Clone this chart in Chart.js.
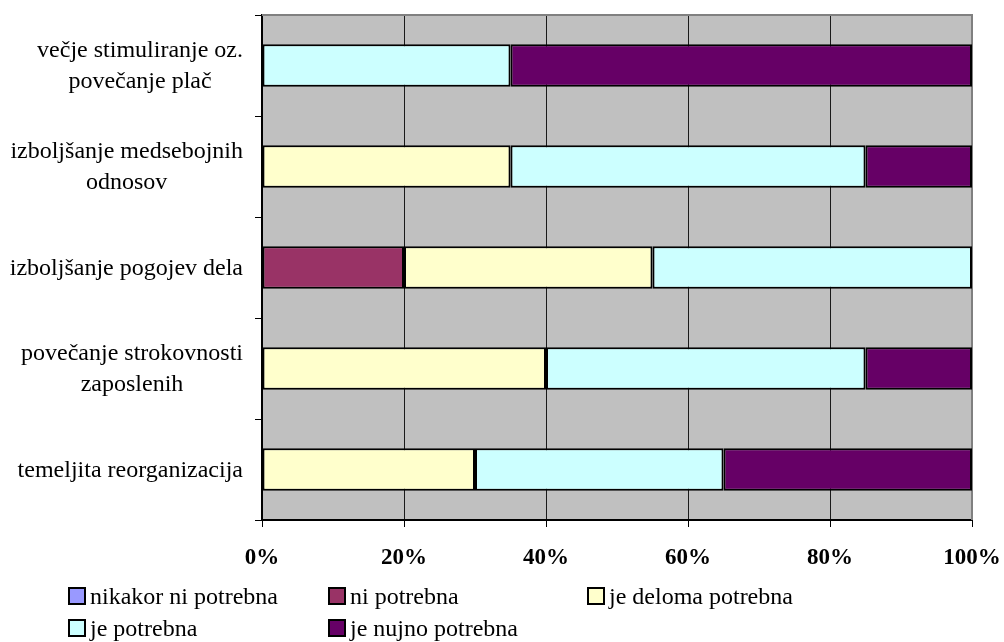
<!DOCTYPE html>
<html>
<head>
<meta charset="utf-8">
<script src="https://cdn.jsdelivr.net/npm/chart.js@4.4.1/dist/chart.umd.min.js"></script>
<style>
  body { margin: 0; background: #fff; }
  #wrap { width: 1004px; height: 642px; position: relative; }
</style>
</head>
<body>
<div id="wrap"><canvas id="chart"></canvas></div>
<script>
// Categories, top to bottom
const categories = [
  ["večje stimuliranje oz.", "povečanje plač"],
  ["izboljšanje medsebojnih", "odnosov"],
  ["izboljšanje pogojev dela"],
  ["povečanje strokovnosti", "zaposlenih"],
  ["temeljita reorganizacija"]
];

// Series values (%)
const nikakorNiPotrebna = [0, 0, 0, 0, 0];
const niPotrebna = [0, 0, 20, 0, 0];
const jeDelomaPotrebna = [0, 35, 35, 40, 30];
const jePotrebna = [35, 50, 45, 45, 35];
const jeNujnoPotrebna = [65, 15, 0, 15, 35];

const seriesNames = ["nikakor ni potrebna", "ni potrebna", "je deloma potrebna", "je potrebna", "je nujno potrebna"];
const seriesColors = ["#9999ff", "#993366", "#ffffcc", "#ccffff", "#660066"];
const seriesData = [nikakorNiPotrebna, niPotrebna, jeDelomaPotrebna, jePotrebna, jeNujnoPotrebna];

// X axis ticks
const xTicks = [0, 20, 40, 60, 80, 100];

const serif = '"Liberation Serif", "Times New Roman", serif';

const customDraw = {
  id: "customDraw",
  beforeDraw(chart) {
    const { ctx, chartArea: a } = chart;
    ctx.save();
    ctx.fillStyle = "#c0c0c0";
    ctx.fillRect(a.left, a.top, a.right - a.left, a.bottom - a.top);
    ctx.restore();
  },
  beforeDatasetsDraw(chart) {
    const { ctx, chartArea: a } = chart;
    ctx.save();
    ctx.strokeStyle = "#808080";
    ctx.lineWidth = 2;
    ctx.beginPath();
    ctx.moveTo(a.left, a.top);
    ctx.lineTo(a.right, a.top);
    ctx.lineTo(a.right, a.bottom);
    ctx.stroke();
    ctx.restore();
  },
  afterDraw(chart) {
    const { ctx, chartArea: a } = chart;
    const yScale = chart.scales.y;
    ctx.save();
    ctx.fillStyle = "#000";
    ctx.font = "24px " + serif;
    ctx.textAlign = "center";
    ctx.textBaseline = "middle";

    // category labels: block right-aligned, lines centred
    categories.forEach((lines, i) => {
      const yc = yScale.getPixelForValue(i) + 1;
      const maxW = Math.max(...lines.map((l) => ctx.measureText(l).width));
      const cx = a.left - 19 - maxW / 2;
      lines.forEach((line, j) => {
        ctx.fillText(line, cx, yc + (j - (lines.length - 1) / 2) * 31);
      });
    });

    // legend
    const colX = [69, 329, 588];
    const rowY = [596, 628];
    ctx.textAlign = "left";
    seriesNames.forEach((name, i) => {
      const x = colX[i % 3];
      const y = rowY[Math.floor(i / 3)];
      ctx.fillStyle = seriesColors[i];
      ctx.fillRect(x, y - 8, 16, 16);
      ctx.strokeStyle = "#000";
      ctx.lineWidth = 2;
      ctx.strokeRect(x, y - 8, 16, 16);
      ctx.fillStyle = "#000";
      ctx.fillText(name, x + 21, y + 2);
    });
    ctx.restore();
  }
};

const ctx = document.getElementById("chart").getContext("2d");
const chart = new Chart(ctx, {
  type: "bar",
  data: {
    labels: categories,
    datasets: seriesNames.map((name, i) => ({
      label: name,
      data: seriesData[i],
      backgroundColor: seriesColors[i],
      borderColor: "#000",
      borderWidth: 2,
      borderSkipped: false,
      categoryPercentage: 1,
      barPercentage: 0.42
    }))
  },
  options: {
    indexAxis: "y",
    responsive: true,
    maintainAspectRatio: false,
    animation: false,
    layout: { padding: { left: 256, right: 32, top: 15, bottom: 62 } },
    plugins: {
      legend: { display: false },
      tooltip: { enabled: false }
    },
    scales: {
      x: {
        stacked: true,
        min: 0,
        max: 100,
        afterBuildTicks: (scale) => { scale.ticks = xTicks.map((v) => ({ value: v })); },
        afterFit: (scale) => {
          scale.height = 60;
          scale.paddingLeft = 0;
          scale.paddingRight = 0;
        },
        grid: { color: "#1a1a1a", lineWidth: 1, tickLength: 7, tickColor: "#000" },
        border: { color: "#000", width: 2 },
        ticks: {
          color: "#000",
          padding: 17,
          font: { family: serif, size: 23, weight: "bold" },
          callback: (v) => v + "%"
        }
      },
      y: {
        stacked: true,
        offset: true,
        afterFit: (scale) => { scale.width = 6; },
        grid: { offset: true, drawOnChartArea: false, tickLength: 7, color: "#000" },
        border: { color: "#000", width: 2 },
        ticks: { display: false }
      }
    }
  },
  plugins: [customDraw]
});
</script>
</body>
</html>
